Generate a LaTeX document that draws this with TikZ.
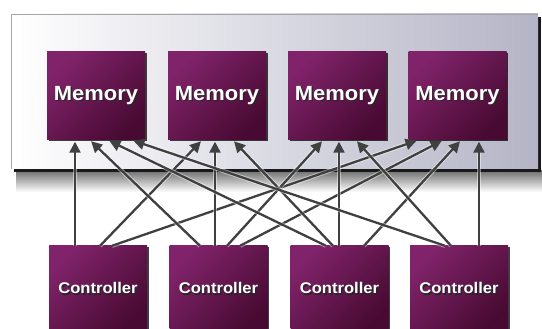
\documentclass[tikz,border=0pt]{standalone}
\usepackage{fontspec}
\newfontfamily\boxfont{Liberation Sans}[FakeStretch=1.07]
\usetikzlibrary{arrows.meta,shadows}
\definecolor{plight}{HTML}{80236A}
\definecolor{pdark}{HTML}{480A32}
\definecolor{arrowc}{HTML}{404040}
\definecolor{panelr}{HTML}{B4B4C6}
\newcommand\shadowtxt[1]{\leavevmode\rlap{\kern1.3pt\raisebox{-1.3pt}{\color{black!85}#1}}#1}
\begin{document}
\begin{tikzpicture}[x=1pt,y=-1pt,
  purplebox/.style={minimum width=98pt, inner sep=0pt, top color=plight, bottom color=pdark,
    shading angle=45, text=white,
    drop shadow={shadow xshift=1.6pt, shadow yshift=-1.2pt, opacity=0.75, fill=black}},
  membox/.style={purplebox, minimum height=88pt, font=\boxfont\bfseries\fontsize{20.5}{24}\selectfont},
  ctlbox/.style={purplebox, minimum height=86pt, font=\boxfont\bfseries\fontsize{15.5}{18}\selectfont},
  conn/.style={draw=arrowc, line width=2.3pt, -{Triangle[length=11pt,width=11pt]}, shorten >=1.5pt,
    preaction={draw=white, line width=4.3pt, opacity=0.45, -, shorten >=9pt}}]
\clip (0,0) rectangle (542,329);
\useasboundingbox (0,0) rectangle (542,329);
\fill[white] (0,0) rectangle (542,329);
% soft shadow under panel
\shade[top color=black!55, bottom color=white] (16,171) rectangle (542,192);
% panel dark shadow edge
\fill[black!90] (14,17) rectangle (541,172);
% panel
\shade[left color=white, right color=panelr] (11,14) rectangle (538,169);
\draw[black!35, line width=0.8pt] (11,169) -- (11,14) -- (538,14);
% memories
\node[membox] (m1) at (96,96) {\shadowtxt{Memory}};
\node[membox] (m2) at (217,96) {\shadowtxt{Memory}};
\node[membox] (m3) at (337,96) {\shadowtxt{Memory}};
\node[membox] (m4) at (457.5,96) {\shadowtxt{Memory}};
% controllers
\node[ctlbox] (c1) at (98,289) {\shadowtxt{Controller}};
\node[ctlbox] (c2) at (218.5,289) {\shadowtxt{Controller}};
\node[ctlbox] (c3) at (339.5,289) {\shadowtxt{Controller}};
\node[ctlbox] (c4) at (459,289) {\shadowtxt{Controller}};
% connectors
\draw[conn] ([xshift=-23pt]c1.north) -- ([xshift=-21pt]m1.south);
\draw[conn] ([xshift=2pt]c1.north) -- ([xshift=-15pt]m2.south);
\draw[conn] ([xshift=14pt]c1.north) -- ([xshift=-39.5pt]m4.south);
\draw[conn] ([xshift=-18.5pt]c2.north) -- ([xshift=-6pt]m1.south);
\draw[conn] ([xshift=-3.5pt]c2.north) -- ([xshift=-2pt]m2.south);
\draw[conn] ([xshift=8.5pt]c2.north) -- ([xshift=-14pt]m3.south);
\draw[conn] ([xshift=21.5pt]c2.north) -- ([xshift=-14.5pt]m4.south);
\draw[conn] ([xshift=-13.5pt]c3.north) -- ([xshift=12pt]m1.south);
\draw[conn] ([xshift=-6.5pt]c3.north) -- ([xshift=16pt]m2.south);
\draw[conn] ([xshift=-0.5pt]c3.north) -- ([xshift=2pt]m3.south);
\draw[conn] ([xshift=24.5pt]c3.north) -- ([xshift=3.5pt]m4.south);
\draw[conn] ([xshift=-14pt]c4.north) -- ([xshift=36pt]m1.south);
\draw[conn] ([xshift=-8pt]c4.north) -- ([xshift=19pt]m3.south);
\draw[conn] ([xshift=20pt]c4.north) -- ([xshift=21.5pt]m4.south);
\end{tikzpicture}
\end{document}
